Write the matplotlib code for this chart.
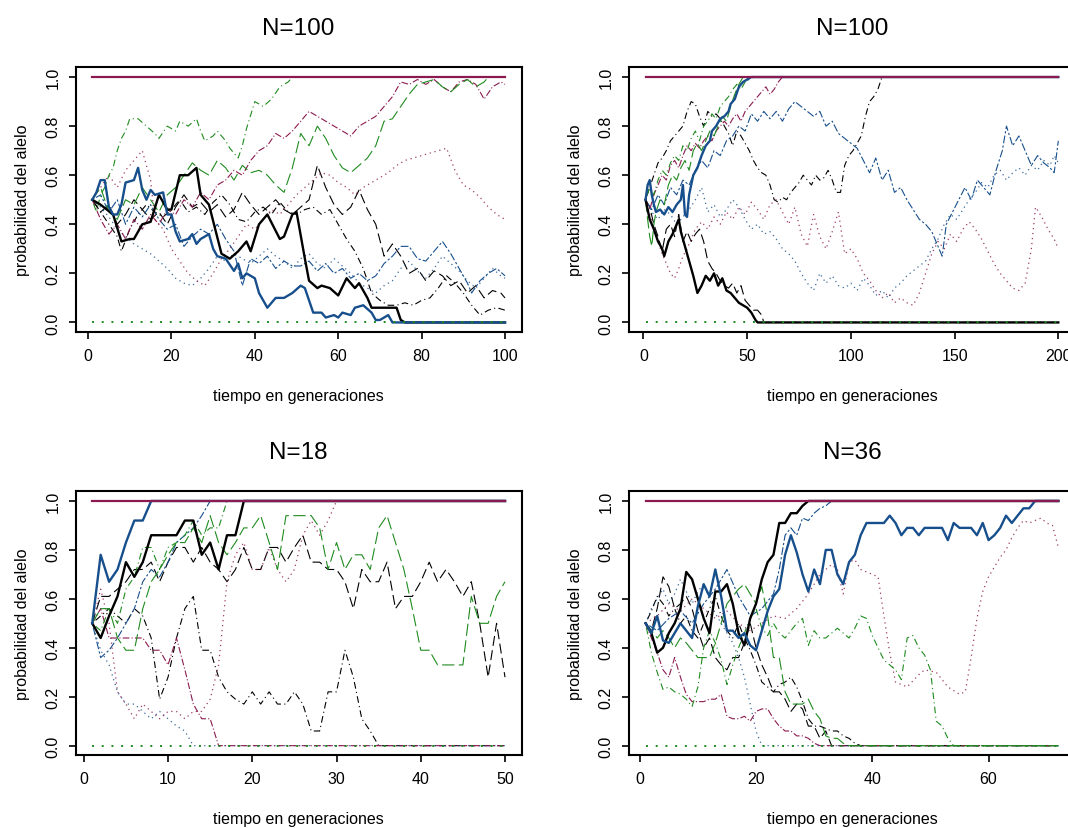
import matplotlib
matplotlib.use("Agg")
import matplotlib.pyplot as plt

plt.rcParams['font.family'] = ['Liberation Sans', 'DejaVu Sans']

# colores de las trayectorias
BLACK = '#000000'
BLUE = '#174f8c'
PURPLE = '#8b1a50'
GREEN = '#1f8b1f'

# =========================
# Panel 1: N=100, 100 generaciones  (generacion, frecuencia)
# =========================
p1_n = 100
p1_black_solid = [(1,.50),(3,.48),(6,.44),(8,.33),(10,.34),(11,.34),(13,.40),(15,.41),(17,.52),(19,.46),
                  (20,.46),(22,.60),(24,.60),(26,.63),(27,.52),(29,.48),(32,.28),(34,.26),(36,.29),(38,.33),
                  (39,.29),(41,.40),(43,.44),(46,.34),(47,.35),(49,.44),(50,.45),(52,.26),(53,.17),(55,.14),
                  (56,.15),(58,.14),(60,.11),(62,.18),(64,.14),(65,.16),(67,.10),(68,.06),(70,.06),(74,.06),
                  (75,.01),(76,0.0),(100,0.0)]
p1_blue_solid = [(1,.50),(2,.53),(3,.58),(4,.58),(5,.47),(6,.44),(7,.44),(8,.48),(9,.57),(11,.58),(12,.63),
                 (13,.54),(14,.50),(15,.54),(16,.52),(18,.53),(19,.44),(20,.44),(21,.37),(22,.33),(24,.34),
                 (25,.36),(26,.32),(27,.34),(29,.36),(30,.30),(31,.27),(33,.26),(35,.21),(36,.24),(37,.18),
                 (38,.20),(40,.18),(41,.12),(43,.06),(45,.10),(47,.10),(49,.12),(51,.15),(52,.14),(54,.04),
                 (56,.04),(57,.02),(59,.03),(60,.02),(61,.04),(63,.03),(64,.06),(66,.07),(68,.04),(69,.01),
                 (70,.01),(72,.03),(73,0.0),(100,0.0)]
p1_black_dashed = [(1,.50),(3,.45),(5,.48),(7,.40),(9,.44),(11,.50),(13,.46),(15,.42),(17,.45),(19,.40),
                   (21,.47),(23,.52),(25,.47),(27,.49),(29,.45),(31,.48),(33,.43),(35,.46),(37,.53),(39,.48),
                   (41,.44),(43,.47),(45,.50),(47,.46),(49,.44),(51,.47),(53,.50),(55,.64),(57,.55),(59,.48),
                   (61,.44),(63,.47),(65,.54),(67,.46),(69,.40),(71,.27),(73,.32),(75,.27),(77,.20),(79,.22),
                   (81,.17),(83,.21),(85,.19),(87,.15),(89,.17),(91,.12),(93,.15),(95,.10),(97,.13),(99,.12),
                   (100,.10)]
p1_black_dotdash = [(1,.50),(3,.45),(5,.40),(7,.35),(8,.29),(10,.38),(12,.44),(14,.48),(16,.45),(18,.43),
                    (20,.46),(22,.50),(24,.45),(26,.47),(28,.44),(30,.49),(32,.52),(34,.48),(36,.42),(38,.41),
                    (40,.45),(42,.47),(44,.44),(46,.49),(48,.45),(50,.44),(52,.46),(54,.47),(56,.44),(58,.46),
                    (60,.40),(62,.34),(64,.29),(66,.22),(68,.12),(70,.09),(72,.07),(74,.07),(76,.08),(78,.07),
                    (80,.09),(82,.10),(84,.14),(86,.19),(88,.16),(90,.12),(92,.07),(94,.03),(96,.05),(98,.06),
                    (100,.05)]
p1_blue_dashed = [(1,.50),(3,.52),(5,.45),(7,.50),(9,.40),(11,.47),(13,.43),(15,.48),(17,.42),(19,.38),
                  (21,.40),(23,.31),(25,.35),(27,.38),(29,.36),(31,.40),(33,.34),(35,.29),(37,.15),(39,.26),
                  (41,.24),(43,.27),(45,.22),(47,.25),(49,.23),(51,.23),(53,.25),(55,.21),(57,.24),(59,.20),
                  (61,.22),(63,.18),(65,.20),(67,.17),(69,.19),(71,.24),(73,.27),(75,.31),(77,.31),(79,.26),
                  (81,.25),(83,.29),(85,.33),(87,.28),(89,.22),(91,.16),(92,.12),(94,.17),(96,.20),(98,.22),
                  (100,.19)]
p1_blue_dotted = [(1,.50),(3,.47),(5,.43),(7,.38),(9,.35),(11,.32),(13,.30),(15,.28),(17,.25),(19,.22),
                  (21,.18),(23,.16),(25,.15),(27,.18),(29,.22),(31,.27),(33,.25),(35,.28),(37,.26),(39,.24),
                  (41,.27),(43,.30),(45,.27),(47,.25),(49,.22),(51,.26),(53,.28),(55,.24),(57,.22),(59,.26),
                  (61,.23),(63,.20),(65,.16),(67,.14),(69,.12),(71,.15),(73,.17),(75,.22),(77,.25),(79,.21),
                  (81,.18),(83,.22),(85,.27),(87,.24),(89,.21),(91,.17),(93,.14),(95,.18),(97,.22),(99,.19),
                  (100,.18)]
p1_purple_dashed = [(1,.50),(3,.42),(5,.36),(7,.40),(9,.34),(11,.42),(13,.38),(15,.44),(17,.40),(19,.46),
                    (21,.44),(23,.50),(25,.47),(27,.53),(29,.50),(31,.56),(33,.58),(35,.62),(37,.60),(39,.66),
                    (41,.70),(43,.72),(45,.77),(47,.75),(49,.78),(51,.82),(53,.86),(55,.84),(57,.82),(59,.80),
                    (61,.78),(63,.76),(65,.80),(67,.82),(69,.84),(71,.88),(73,.92),(75,.98),(77,.97),(79,.99),
                    (81,.97),(83,.99),(85,.96),(87,.94),(89,.98),(91,.99),(93,.97),(95,.91),(97,.96),(99,.98),
                    (100,.97)]
p1_purple_dotted = [(1,.50),(3,.55),(5,.60),(7,.55),(9,.62),(11,.66),(13,.70),(15,.58),(16,.42),(18,.38),
                    (20,.30),(22,.25),(24,.20),(26,.17),(28,.15),(30,.20),(32,.26),(34,.30),(36,.35),(38,.40),
                    (40,.38),(42,.42),(44,.46),(46,.44),(48,.48),(50,.52),(52,.55),(54,.58),(56,.61),(58,.60),
                    (60,.57),(62,.55),(64,.52),(66,.55),(68,.57),(70,.59),(72,.61),(74,.64),(76,.66),(78,.67),
                    (80,.68),(82,.69),(84,.70),(86,.71),(88,.62),(90,.56),(92,.54),(94,.51),(96,.47),(98,.44),
                    (100,.42)]
p1_green_dashed = [(1,.50),(3,.55),(5,.45),(7,.42),(9,.50),(11,.48),(13,.55),(15,.50),(17,.45),(19,.52),
                   (21,.55),(23,.60),(25,.65),(27,.62),(29,.60),(31,.66),(33,.63),(35,.58),(37,.64),(39,.61),
                   (41,.62),(43,.60),(45,.56),(47,.53),(49,.63),(51,.77),(53,.72),(55,.80),(57,.75),(59,.68),
                   (61,.63),(63,.61),(65,.64),(67,.67),(69,.72),(71,.82),(73,.83),(75,.88),(77,.93),(79,.97),
                   (81,.98),(83,.99),(85,.96),(87,.94),(89,.97),(91,.99),(93,.96),(95,.98),(96,1.0),(100,1.0)]
p1_green_dotdash = [(1,.50),(2,.45),(3,.52),(4,.55),(5,.60),(6,.63),(7,.70),(8,.75),(9,.78),(10,.83),
                    (12,.83),(14,.80),(16,.77),(17,.75),(19,.80),(21,.78),(22,.82),(24,.80),(26,.83),(27,.78),
                    (28,.74),(30,.76),(31,.78),(33,.74),(34,.71),(36,.67),(37,.72),(38,.79),(40,.90),(42,.88),
                    (44,.91),(46,.96),(48,.98),(49,1.0),(100,1.0)]

# =========================
# Panel 2: N=100, 200 generaciones
# =========================
p2_n = 200
p2_black_solid = [(1,.50),(3,.42),(5,.38),(7,.33),(9,.30),(10,.27),(12,.33),(14,.36),(16,.40),(17,.42),
                  (18,.37),(20,.31),(22,.25),(24,.19),(26,.12),(28,.15),(30,.19),(32,.17),(34,.20),(36,.15),
                  (38,.18),(40,.13),(42,.12),(44,.10),(46,.08),(48,.07),(50,.06),(52,.04),(54,.01),(55,0.0),
                  (200,0.0)]
p2_blue_solid = [(1,.50),(2,.56),(3,.58),(4,.52),(5,.48),(6,.45),(8,.46),(10,.44),(12,.47),(14,.45),(16,.48),
                 (18,.50),(19,.56),(20,.44),(21,.43),(22,.52),(23,.56),(24,.60),(26,.63),(28,.68),(30,.72),
                 (32,.74),(33,.78),(35,.80),(37,.83),(39,.84),(41,.86),(42,.89),(44,.91),(46,.96),(48,.98),
                 (50,.99),(52,1.0),(200,1.0)]
p2_black_dashed = [(1,.50),(3,.47),(5,.40),(7,.35),(9,.29),(11,.38),(13,.40),(15,.35),(17,.44),(19,.33),
                   (21,.37),(23,.33),(25,.36),(27,.38),(29,.33),(31,.25),(33,.22),(35,.20),(37,.17),(39,.15),
                   (41,.14),(43,.16),(45,.12),(47,.15),(49,.09),(51,.07),(53,.05),(55,.05),(57,.03),(58,0.0),
                   (200,0.0)]
p2_black_dotdash = [(1,.50),(3,.55),(5,.60),(7,.65),(9,.67),(11,.70),(13,.74),(15,.76),(17,.78),(19,.80),
                    (21,.86),(23,.90),(25,.89),(27,.84),(29,.80),(31,.86),(33,.84),(35,.85),(37,.83),(39,.80),
                    (41,.77),(43,.72),(45,.78),(47,.76),(49,.73),(51,.70),(53,.66),(55,.63),(57,.61),(59,.60),
                    (61,.56),(63,.50),(65,.49),(67,.51),(69,.50),(71,.53),(73,.55),(75,.57),(77,.60),(79,.58),
                    (81,.56),(83,.60),(85,.58),(87,.59),(89,.62),(91,.58),(93,.53),(95,.53),(97,.64),(99,.68),
                    (101,.70),(103,.73),(105,.76),(107,.84),(109,.90),(111,.92),(113,.95),(115,1.0),(200,1.0)]
p2_blue_dashed = [(1,.50),(4,.46),(7,.52),(10,.48),(13,.55),(16,.52),(19,.58),(22,.56),(25,.62),(28,.66),
                  (31,.63),(34,.70),(37,.68),(40,.74),(43,.76),(46,.80),(49,.78),(52,.85),(55,.82),(58,.86),
                  (61,.83),(64,.86),(67,.82),(70,.87),(73,.90),(76,.88),(79,.86),(82,.84),(85,.86),(88,.80),
                  (91,.82),(94,.77),(97,.75),(100,.73),(103,.71),(106,.66),(109,.61),(112,.67),(115,.58),
                  (118,.62),(121,.53),(124,.55),(127,.50),(130,.46),(133,.42),(136,.40),(139,.37),(142,.31),
                  (144,.27),(146,.40),(149,.45),(152,.50),(155,.55),(158,.50),(161,.58),(164,.55),(167,.52),
                  (170,.62),(173,.70),(175,.80),(178,.72),(181,.76),(184,.70),(187,.64),(190,.68),(193,.65),
                  (196,.63),(198,.61),(200,.74)]
p2_blue_dotted = [(1,.50),(4,.45),(7,.42),(10,.46),(13,.44),(16,.40),(19,.43),(22,.46),(25,.50),(28,.55),
                  (31,.45),(34,.48),(37,.43),(40,.46),(43,.50),(46,.47),(49,.42),(52,.38),(55,.40),(58,.36),
                  (61,.37),(64,.34),(67,.30),(70,.28),(73,.25),(76,.20),(79,.16),(82,.13),(85,.20),(88,.16),
                  (91,.19),(94,.15),(97,.14),(100,.16),(103,.13),(106,.18),(109,.15),(112,.11),(115,.13),
                  (118,.10),(121,.14),(124,.16),(127,.19),(130,.21),(133,.23),(136,.25),(139,.30),(142,.34),
                  (145,.40),(148,.44),(151,.42),(154,.46),(157,.50),(160,.53),(163,.57),(166,.55),(169,.60),
                  (172,.62),(175,.58),(178,.61),(181,.63),(184,.60),(187,.64),(190,.62),(193,.66),(196,.64),
                  (198,.68),(200,.65)]
p2_purple_dashed = [(1,.50),(3,.46),(5,.52),(7,.56),(9,.60),(11,.58),(13,.64),(15,.66),(17,.63),(19,.68),
                    (21,.72),(23,.70),(25,.73),(27,.71),(29,.74),(31,.76),(33,.74),(35,.78),(37,.80),(39,.82),
                    (41,.80),(43,.83),(45,.85),(47,.82),(49,.86),(51,.88),(53,.90),(55,.92),(57,.94),(59,.96),
                    (61,.93),(63,.95),(65,.98),(67,1.0),(200,1.0)]
p2_purple_dotted = [(1,.50),(3,.44),(5,.38),(7,.33),(9,.28),(11,.24),(13,.20),(15,.18),(17,.22),(19,.27),
                    (21,.30),(23,.34),(25,.38),(28,.41),(31,.38),(34,.43),(37,.40),(40,.45),(43,.42),(46,.47),
                    (49,.44),(52,.49),(55,.46),(58,.42),(61,.48),(64,.50),(67,.45),(70,.40),(73,.47),(76,.36),
                    (79,.31),(82,.44),(85,.35),(88,.30),(91,.37),(94,.45),(97,.28),(100,.30),(103,.26),(106,.20),
                    (109,.17),(112,.13),(115,.10),(118,.12),(121,.08),(124,.10),(127,.08),(130,.07),(133,.12),
                    (136,.20),(139,.28),(142,.33),(145,.30),(148,.36),(151,.33),(154,.38),(157,.41),(160,.38),
                    (163,.34),(166,.29),(169,.24),(172,.20),(175,.17),(178,.14),(181,.13),(184,.16),(187,.30),
                    (189,.47),(192,.43),(195,.38),(198,.34),(200,.30)]
p2_green_dashed = [(1,.50),(2,.42),(3,.35),(4,.31),(5,.40),(6,.45),(8,.50),(10,.48),(12,.56),(14,.60),
                   (16,.58),(18,.63),(20,.66),(22,.62),(24,.70),(26,.73),(28,.70),(30,.74),(32,.78),(34,.76),
                   (36,.80),(38,.84),(40,.82),(42,.88),(44,.93),(46,.97),(48,1.0),(200,1.0)]
p2_green_dotdash = [(1,.50),(3,.55),(5,.52),(7,.58),(9,.62),(11,.60),(13,.65),(15,.68),(17,.66),(19,.72),
                    (21,.70),(23,.75),(25,.78),(27,.74),(29,.80),(31,.82),(33,.85),(35,.83),(37,.88),(39,.90),
                    (41,.92),(43,.95),(45,.97),(47,.95),(49,.98),(51,.99),(53,1.0),(200,1.0)]

# =========================
# Panel 3: N=18, 50 generaciones
# =========================
p3_n = 50
p3_black_solid = [(1,.50),(2,.44),(3,.53),(4,.61),(5,.75),(6,.69),(7,.75),(8,.86),(11,.86),(12,.92),(13,.92),
                  (14,.78),(15,.83),(16,.72),(17,.86),(18,.86),(19,1.0),(50,1.0)]
p3_blue_solid = [(1,.50),(2,.78),(3,.67),(4,.72),(5,.83),(6,.92),(7,.92),(8,1.0),(50,1.0)]
p3_black_dashed = [(1,.50),(2,.61),(3,.61),(4,.64),(5,.67),(6,.72),(7,.72),(8,.75),(9,.67),(10,.75),(11,.81),
                   (12,.81),(13,.75),(14,.81),(15,.75),(16,.72),(17,.67),(18,.72),(19,.81),(20,.72),(21,.72),
                   (22,.81),(23,.81),(24,.75),(25,.81),(26,.86),(27,.75),(28,.75),(29,.72),(30,.72),(31,.67),
                   (32,.56),(33,.72),(34,.67),(35,.67),(36,.75),(37,.56),(38,.61),(39,.61),(40,.67),(41,.75),
                   (42,.67),(43,.72),(44,.67),(45,.61),(46,.67),(47,.50),(48,.28),(49,.50),(50,.28)]
p3_black_dotdash = [(1,.50),(2,.53),(3,.56),(4,.53),(5,.50),(6,.56),(7,.53),(8,.44),(9,.19),(10,.28),(11,.44),
                    (12,.56),(13,.61),(14,.39),(15,.39),(16,.28),(17,.22),(18,.19),(19,.17),(20,.22),(21,.17),
                    (22,.22),(23,.17),(24,.17),(25,.22),(26,.17),(27,.06),(28,.06),(29,.22),(30,.22),(31,.39),
                    (32,.28),(33,.11),(34,.06),(35,0.0),(50,0.0)]
p3_blue_dashed = [(1,.50),(2,.36),(3,.39),(4,.44),(5,.50),(6,.56),(7,.67),(8,.72),(9,.69),(10,.75),(11,.83),
                  (12,.86),(13,.89),(14,.94),(15,1.0),(50,1.0)]
p3_blue_dotted = [(1,.50),(2,.39),(3,.33),(4,.22),(5,.17),(6,.17),(7,.14),(8,.11),(9,.14),(10,.11),(11,.08),
                  (12,.06),(13,0.0),(50,0.0)]
p3_purple_dashed = [(1,.50),(2,.56),(3,.44),(4,.44),(5,.44),(6,.44),(7,.44),(8,.39),(9,.39),(10,.33),(11,.44),
                    (12,.31),(13,.17),(14,.11),(15,.11),(16,0.0),(50,0.0)]
p3_purple_dotted = [(1,.50),(2,.64),(3,.50),(4,.22),(5,.17),(6,.11),(7,.17),(8,.14),(9,.11),(10,.14),(11,.14),
                    (12,.11),(13,.14),(14,.14),(15,.19),(16,.33),(17,.67),(18,.78),(19,.83),(20,.72),(21,.72),
                    (22,.81),(23,.72),(24,.67),(25,.72),(26,.86),(27,.92),(28,.86),(29,.92),(30,1.0),(50,1.0)]
p3_green_dashed = [(1,.50),(2,.56),(3,.56),(4,.44),(5,.39),(6,.39),(7,.56),(8,.67),(9,.72),(10,.78),(11,.83),
                   (12,.83),(13,.89),(14,.83),(15,.94),(16,.83),(17,.78),(18,.83),(19,.89),(20,.89),(21,.94),
                   (22,.83),(23,.72),(24,.94),(25,.94),(26,.94),(27,.94),(28,.89),(29,.72),(30,.83),(31,.72),
                   (32,.78),(33,.78),(34,.72),(35,.89),(36,.94),(37,.83),(38,.72),(39,.56),(40,.39),(41,.39),
                   (42,.33),(43,.33),(44,.33),(45,.33),(46,.61),(47,.50),(48,.50),(49,.61),(50,.67)]
p3_green_dotdash = [(1,.50),(2,.47),(3,.56),(4,.50),(5,.64),(6,.69),(7,.81),(8,.81),(9,.72),(10,.81),(11,.83),
                    (12,.86),(13,.92),(14,.86),(15,.89),(16,.89),(17,1.0),(50,1.0)]

# =========================
# Panel 4: N=36, 72 generaciones
# =========================
p4_n = 72
p4_black_solid = [(1,.50),(2,.46),(3,.38),(4,.40),(5,.46),(6,.50),(7,.56),(8,.71),(9,.68),(10,.60),(11,.52),
                  (12,.46),(13,.63),(14,.63),(15,.66),(16,.58),(17,.46),(18,.41),(19,.52),(20,.58),(21,.68),
                  (22,.75),(23,.78),(24,.91),(25,.91),(26,.95),(27,.95),(28,.98),(29,1.0),(72,1.0)]
p4_blue_solid = [(1,.50),(2,.46),(3,.53),(4,.43),(5,.42),(6,.46),(7,.50),(8,.47),(9,.44),(10,.57),(11,.66),
                 (12,.61),(13,.72),(14,.61),(15,.47),(16,.47),(17,.44),(18,.46),(19,.41),(20,.39),(21,.47),
                 (22,.55),(23,.61),(24,.64),(25,.78),(26,.86),(27,.79),(28,.70),(29,.63),(30,.72),(31,.66),
                 (32,.80),(33,.80),(34,.70),(35,.66),(36,.75),(37,.78),(38,.86),(39,.91),(40,.91),(42,.91),
                 (43,.94),(44,.91),(45,.86),(46,.89),(47,.89),(48,.86),(49,.89),(50,.89),(52,.89),(53,.84),
                 (54,.91),(55,.89),(57,.89),(58,.86),(59,.91),(60,.84),(61,.86),(62,.89),(63,.94),(64,.91),
                 (65,.94),(66,.97),(67,.97),(68,1.0),(72,1.0)]
p4_black_dashed = [(1,.50),(2,.47),(3,.56),(4,.69),(5,.65),(6,.56),(7,.58),(8,.61),(9,.56),(10,.47),(11,.40),
                   (12,.44),(13,.36),(14,.33),(15,.31),(16,.36),(17,.36),(18,.42),(19,.50),(20,.40),(21,.33),
                   (22,.28),(23,.22),(24,.22),(25,.19),(26,.14),(27,.17),(28,.15),(29,.08),(30,.08),(31,.03),
                   (32,.06),(33,0.0),(72,0.0)]
p4_black_dotdash = [(1,.50),(2,.55),(3,.61),(4,.58),(5,.53),(6,.56),(7,.50),(8,.53),(9,.47),(10,.44),(11,.50),
                    (12,.56),(13,.61),(14,.53),(15,.47),(16,.44),(17,.50),(18,.44),(19,.39),(20,.33),(21,.26),
                    (22,.24),(23,.22),(24,.25),(25,.26),(26,.28),(27,.24),(28,.18),(29,.11),(30,.08),(31,.08),
                    (32,.07),(33,.06),(34,.06),(35,.04),(36,.03),(37,.01),(38,0.0),(72,0.0)]
p4_blue_dashed = [(1,.50),(3,.47),(5,.52),(7,.55),(9,.50),(11,.58),(13,.64),(15,.72),(17,.61),(19,.53),(21,.56),
                  (23,.62),(24,.72),(25,.86),(26,.89),(27,.86),(28,.93),(29,.92),(30,.95),(31,.97),(32,.98),
                  (33,1.0),(72,1.0)]
p4_blue_dotted = [(1,.50),(2,.56),(3,.60),(4,.64),(5,.58),(6,.62),(7,.68),(8,.63),(9,.58),(10,.63),(11,.66),
                  (12,.60),(13,.54),(14,.50),(15,.46),(16,.42),(17,.36),(18,.28),(19,.17),(20,.06),(21,0.0),
                  (72,0.0)]
p4_purple_dashed = [(1,.50),(2,.44),(3,.38),(4,.31),(5,.28),(6,.36),(7,.28),(8,.21),(9,.18),(10,.18),(11,.18),
                    (12,.19),(13,.19),(14,.21),(15,.12),(16,.11),(17,.11),(18,.12),(19,.10),(20,.14),(21,.15),
                    (22,.15),(23,.11),(24,.08),(25,.06),(26,.06),(27,.04),(28,.04),(29,.03),(30,.01),(31,0.0),
                    (72,0.0)]
p4_purple_dotted = [(1,.50),(3,.53),(5,.58),(7,.55),(9,.60),(11,.56),(13,.52),(15,.55),(17,.50),(19,.47),
                    (21,.50),(23,.53),(25,.52),(27,.56),(29,.62),(31,.70),(33,.74),(34,.72),(35,.62),(36,.75),
                    (37,.76),(38,.72),(40,.70),(41,.69),(42,.53),(43,.38),(44,.26),(46,.24),(48,.29),(49,.31),
                    (51,.30),(52,.27),(53,.24),(55,.21),(56,.22),(57,.36),(58,.52),(59,.63),(60,.69),(61,.73),
                    (62,.77),(63,.80),(64,.85),(65,.89),(66,.92),(67,.91),(68,.92),(69,.93),(70,.91),(71,.90),
                    (72,.81)]
p4_green_dashed = [(1,.50),(2,.47),(3,.44),(4,.47),(5,.44),(6,.40),(7,.44),(8,.42),(9,.39),(10,.36),(11,.36),
                   (12,.36),(13,.42),(14,.50),(15,.58),(16,.61),(17,.64),(18,.66),(19,.62),(20,.58),(21,.65),
                   (22,.53),(23,.36),(24,.36),(25,.22),(26,.17),(27,.17),(28,.17),(29,.19),(30,.14),(31,.11),
                   (32,.04),(33,.03),(34,.03),(35,.01),(36,0.0),(72,0.0)]
p4_green_dotdash = [(1,.50),(2,.38),(3,.30),(4,.23),(5,.24),(6,.22),(7,.21),(8,.19),(9,.16),(10,.24),(11,.40),
                    (12,.47),(13,.42),(14,.35),(15,.25),(16,.33),(17,.40),(18,.46),(19,.52),(20,.56),(21,.48),
                    (22,.45),(23,.50),(24,.46),(25,.44),(26,.47),(27,.50),(28,.52),(29,.41),(30,.47),(31,.44),
                    (32,.44),(33,.46),(34,.48),(35,.46),(36,.44),(37,.48),(38,.53),(39,.52),(40,.45),(41,.40),
                    (42,.35),(43,.33),(44,.31),(45,.27),(46,.44),(47,.45),(48,.40),(49,.37),(50,.31),(51,.10),
                    (52,.08),(53,.03),(54,0.0),(72,0.0)]

# =========================
# estilos de linea
# =========================
styles = {
    'black_dashed': dict(color=BLACK, linestyle=(0, (9, 4)), linewidth=0.8),
    'black_dotdash': dict(color=BLACK, linestyle=(0, (1, 3, 6, 3)), linewidth=0.8),
    'blue_dashed': dict(color=BLUE, linestyle=(0, (2, 2, 7, 2)), linewidth=0.8),
    'blue_dotted': dict(color=BLUE, linestyle=(0, (1, 3)), linewidth=0.9, alpha=0.85),
    'purple_dashed': dict(color=PURPLE, linestyle=(0, (6, 2, 1, 2)), linewidth=0.8),
    'purple_dotted': dict(color=PURPLE, linestyle=(0, (1, 3)), linewidth=0.9, alpha=0.85),
    'green_dashed': dict(color=GREEN, linestyle=(0, (11, 4)), linewidth=0.8),
    'green_dotdash': dict(color=GREEN, linestyle=(0, (1, 3, 6, 3)), linewidth=0.8),
    'black_solid': dict(color=BLACK, linestyle='-', linewidth=1.7),
    'blue_solid': dict(color=BLUE, linestyle='-', linewidth=1.7),
}

panels = [
    (1, 'N=100', p1_n, [0, 20, 40, 60, 80, 100],
     dict(black_dashed=p1_black_dashed, black_dotdash=p1_black_dotdash, blue_dashed=p1_blue_dashed,
          blue_dotted=p1_blue_dotted, purple_dashed=p1_purple_dashed, purple_dotted=p1_purple_dotted,
          green_dashed=p1_green_dashed, green_dotdash=p1_green_dotdash,
          black_solid=p1_black_solid, blue_solid=p1_blue_solid)),
    (2, 'N=100', p2_n, [0, 50, 100, 150, 200],
     dict(black_dashed=p2_black_dashed, black_dotdash=p2_black_dotdash, blue_dashed=p2_blue_dashed,
          blue_dotted=p2_blue_dotted, purple_dashed=p2_purple_dashed, purple_dotted=p2_purple_dotted,
          green_dashed=p2_green_dashed, green_dotdash=p2_green_dotdash,
          black_solid=p2_black_solid, blue_solid=p2_blue_solid)),
    (3, 'N=18', p3_n, [0, 10, 20, 30, 40, 50],
     dict(black_dashed=p3_black_dashed, black_dotdash=p3_black_dotdash, blue_dashed=p3_blue_dashed,
          blue_dotted=p3_blue_dotted, purple_dashed=p3_purple_dashed, purple_dotted=p3_purple_dotted,
          green_dashed=p3_green_dashed, green_dotdash=p3_green_dotdash,
          black_solid=p3_black_solid, blue_solid=p3_blue_solid)),
    (4, 'N=36', p4_n, [0, 20, 40, 60],
     dict(black_dashed=p4_black_dashed, black_dotdash=p4_black_dotdash, blue_dashed=p4_blue_dashed,
          blue_dotted=p4_blue_dotted, purple_dashed=p4_purple_dashed, purple_dotted=p4_purple_dotted,
          green_dashed=p4_green_dashed, green_dotdash=p4_green_dotdash,
          black_solid=p4_black_solid, blue_solid=p4_blue_solid)),
]

positions = {
    1: [0.0709, 0.598, 0.4174, 0.3197],
    2: [0.589, 0.598, 0.4174, 0.3197],
    3: [0.0709, 0.0875, 0.4174, 0.3188],
    4: [0.589, 0.0875, 0.4174, 0.3188],
}

fig = plt.figure(figsize=(10.68, 8.29), dpi=100)

for idx, title, n, xticks, series in panels:
    ax = fig.add_axes(positions[idx])
    for key, pts in series.items():
        t = [p[0] for p in pts]
        v = [p[1] for p in pts]
        ax.plot(t, v, **styles[key])
    # frecuencia perdida (0) y fijada (1)
    ax.plot([1, n], [0, 0], color=GREEN, linestyle=(0, (1, 4)), linewidth=1.4)
    ax.plot([1, n], [1, 1], color=PURPLE, linewidth=1.6)

    pad = 0.04 * (n - 1)
    ax.set_xlim(1 - pad, n + pad)
    ax.set_ylim(-0.04, 1.04)
    ax.set_xticks(xticks)
    ax.set_yticks([0, 0.2, 0.4, 0.6, 0.8, 1.0])
    ax.set_yticklabels(['0.0', '0.2', '0.4', '0.6', '0.8', '1.0'])
    ax.tick_params(direction='out', length=5, width=1.2, labelsize=11.5, pad=6)
    ax.tick_params(axis='y', labelrotation=90)
    for label in ax.get_yticklabels():
        label.set_va('center')
    for sp in ax.spines.values():
        sp.set_linewidth(1.5)

    ax.set_title(title, fontsize=17.5, pad=24)
    ax.set_xlabel('tiempo en generaciones', fontsize=11.5)
    ax.set_ylabel('probabilidad del alelo', fontsize=11.5)
    ax.xaxis.set_label_coords(0.5, -0.21)
    ax.yaxis.set_label_coords(-0.103, 0.5)

fig.savefig('out.png', dpi=100)
